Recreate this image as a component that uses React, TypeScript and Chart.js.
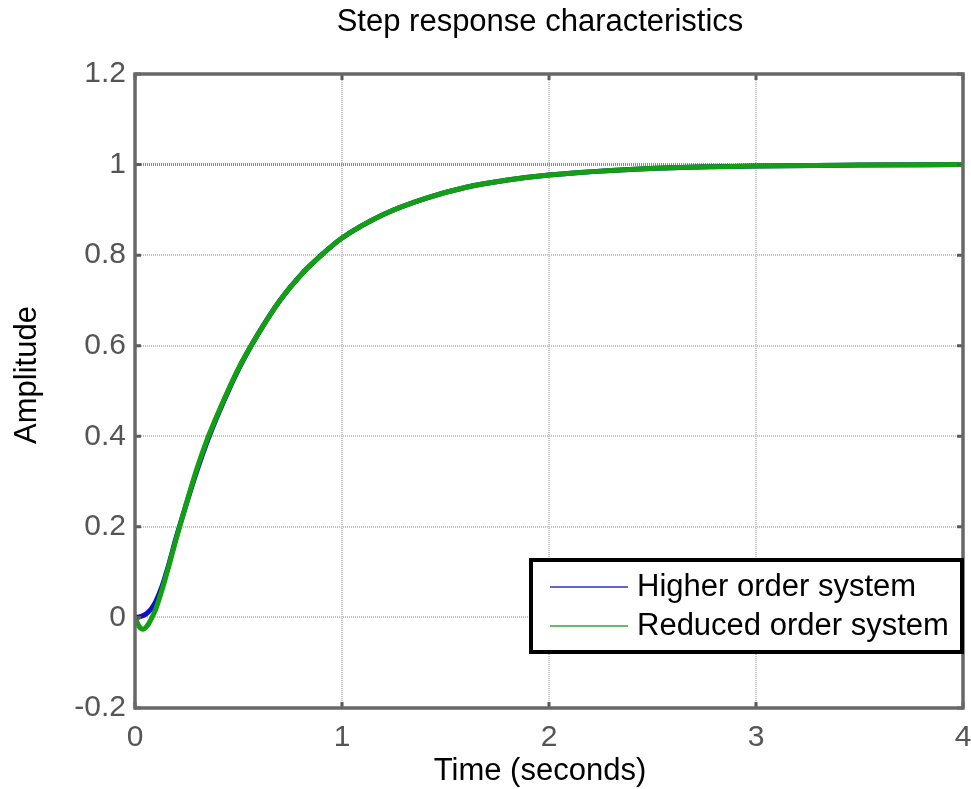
import React, { useEffect, useRef } from "react";
import { Chart, registerables } from "chart.js";

Chart.register(...registerables);

// Step response samples (time in seconds)
const timeSec = [0, 0.02, 0.04, 0.06, 0.08, 0.1, 0.13, 0.16, 0.2, 0.25, 0.3, 0.35, 0.4, 0.5, 0.6, 0.7, 0.8, 0.9, 1.0, 1.2, 1.4, 1.6, 1.8, 2.0, 2.3, 2.6, 3.0, 3.5, 4.0];
const higherOrder = [0, 0.001, 0.004, 0.01, 0.02, 0.035, 0.068, 0.112, 0.178, 0.253, 0.325, 0.39, 0.447, 0.548, 0.63, 0.7, 0.756, 0.8, 0.838, 0.89, 0.925, 0.95, 0.966, 0.977, 0.987, 0.993, 0.997, 0.999, 1.0];
const reducedOrder = [0, -0.02, -0.026, -0.018, -0.002, 0.018, 0.06, 0.108, 0.175, 0.255, 0.33, 0.395, 0.45, 0.55, 0.63, 0.7, 0.755, 0.8, 0.838, 0.89, 0.925, 0.95, 0.966, 0.977, 0.987, 0.993, 0.997, 0.999, 1.0];

const seriesLabels = ["Higher order system", "Reduced order system"];
const seriesColors = ["#1010c8", "#12a012"];
const legendColors = ["#3030c0", "#30a830"];

const titleText = "Step response characteristics";
const xTitle = "Time (seconds)";
const yTitle = "Amplitude";

const xTicks = [0, 1, 2, 3, 4];
const yTicks = [-0.2, 0, 0.2, 0.4, 0.6, 0.8, 1, 1.2];

const FONT = "'Liberation Sans', Arial, sans-serif";

const framePlugin = {
  id: "matlabFrame",
  afterDatasetsDraw(chart: any) {
    const { ctx, chartArea: a, scales } = chart;
    ctx.save();
    // inward tick marks on all four sides
    ctx.strokeStyle = "#5a5a5a";
    ctx.lineWidth = 3;
    const tl = 6;
    for (const v of xTicks) {
      const x = scales.x.getPixelForValue(v);
      ctx.beginPath();
      ctx.moveTo(x, a.bottom);
      ctx.lineTo(x, a.bottom - tl);
      ctx.moveTo(x, a.top);
      ctx.lineTo(x, a.top + tl);
      ctx.stroke();
    }
    for (const v of yTicks) {
      const y = scales.y.getPixelForValue(v);
      ctx.beginPath();
      ctx.moveTo(a.left, y);
      ctx.lineTo(a.left + tl, y);
      ctx.moveTo(a.right, y);
      ctx.lineTo(a.right - tl, y);
      ctx.stroke();
    }
    // axes box
    ctx.strokeStyle = "#686868";
    ctx.lineWidth = 3.5;
    ctx.strokeRect(a.left, a.top, a.right - a.left, a.bottom - a.top);
    ctx.restore();
  },
  afterDraw(chart: any) {
    const { ctx } = chart;
    ctx.save();
    ctx.fillStyle = "#000";
    ctx.textAlign = "center";
    ctx.textBaseline = "middle";
    ctx.font = `31px ${FONT}`;
    ctx.fillText(titleText, 540, 22);
    ctx.fillText(xTitle, 540, 771);
    ctx.save();
    ctx.translate(27, 375);
    ctx.rotate(-Math.PI / 2);
    ctx.fillText(yTitle, 0, 0);
    ctx.restore();

    // legend box
    const lx = 531, ly = 560, lw = 431, lh = 92;
    ctx.fillStyle = "#fff";
    ctx.fillRect(lx, ly, lw, lh);
    ctx.strokeStyle = "#000";
    ctx.lineWidth = 4;
    ctx.strokeRect(lx, ly, lw, lh);
    ctx.textAlign = "left";
    chart.data.datasets.forEach((ds: any, i: number) => {
      const y = 587 + i * 39;
      ctx.strokeStyle = legendColors[i];
      ctx.lineWidth = 1.5;
      ctx.beginPath();
      ctx.moveTo(550, y);
      ctx.lineTo(628, y);
      ctx.stroke();
      ctx.fillStyle = "#000";
      ctx.fillText(ds.label, 637, y);
    });
    ctx.restore();
  },
};

export default function App() {
  const ref = useRef<HTMLCanvasElement | null>(null);

  useEffect(() => {
    document.body.style.margin = "0";
    const canvas = ref.current;
    if (!canvas) return;
    const toPoints = (ys: number[]) => timeSec.map((t, i) => ({ x: t, y: ys[i] }));
    const chart = new Chart(canvas, {
      type: "line",
      data: {
        datasets: [
          {
            label: seriesLabels[0],
            data: toPoints(higherOrder),
            borderColor: seriesColors[0],
            borderWidth: 5,
            pointRadius: 0,
            cubicInterpolationMode: "monotone",
            fill: false,
            order: 2,
          },
          {
            label: seriesLabels[1],
            data: toPoints(reducedOrder),
            borderColor: seriesColors[1],
            borderWidth: 5,
            pointRadius: 0,
            cubicInterpolationMode: "monotone",
            fill: false,
            order: 1,
          },
        ],
      },
      options: {
        animation: false,
        responsive: false,
        devicePixelRatio: 1,
        layout: { padding: { top: 74, right: 8, left: 0, bottom: 0 } },
        plugins: {
          legend: { display: false },
          title: { display: false },
          tooltip: { enabled: false },
        },
        scales: {
          x: {
            type: "linear",
            min: 0,
            max: 4,
            afterFit: (s: any) => {
              s.height = 81;
              s.paddingLeft = 0;
              s.paddingRight = 0;
            },
            afterBuildTicks: (s: any) => {
              s.ticks = xTicks.map((v) => ({ value: v }));
            },
            ticks: {
              color: "#555",
              font: { family: FONT, size: 30 },
              padding: 12,
              maxRotation: 0,
              callback: (v: any) => String(v),
            },
            grid: {
              drawTicks: false,
              color: (c: any) => (c.tick && (c.tick.value === 0 || c.tick.value === 4) ? "rgba(0,0,0,0)" : "#c4c4c4"),
              lineWidth: 2,
            },
            border: { display: false, dash: [1, 1] },
          },
          y: {
            type: "linear",
            min: -0.2,
            max: 1.2,
            afterFit: (s: any) => {
              s.width = 135;
              s.paddingTop = 0;
              s.paddingBottom = 0;
            },
            afterBuildTicks: (s: any) => {
              s.ticks = yTicks.map((v) => ({ value: v }));
            },
            ticks: {
              color: "#555",
              font: { family: FONT, size: 30 },
              padding: 9,
              callback: (v: any) => String(Number(Number(v).toFixed(1))),
            },
            grid: {
              drawTicks: false,
              color: (c: any) => {
                const v = c.tick ? Number(c.tick.value.toFixed(1)) : 0;
                if (v === -0.2 || v === 1.2) return "rgba(0,0,0,0)";
                return v === 1 ? "#8c8c8c" : "#c4c4c4";
              },
              lineWidth: (c: any) => (c.tick && Number(c.tick.value.toFixed(1)) === 1 ? 3 : 2),
            },
            border: { display: false, dash: [1, 1] },
          },
        },
      },
      plugins: [framePlugin],
    } as any);
    return () => chart.destroy();
  }, []);

  return (
    <div style={{ width: 971, height: 789, background: "#fff" }}>
      <canvas ref={ref} width={971} height={789} style={{ display: "block", width: 971, height: 789 }} />
    </div>
  );
}
